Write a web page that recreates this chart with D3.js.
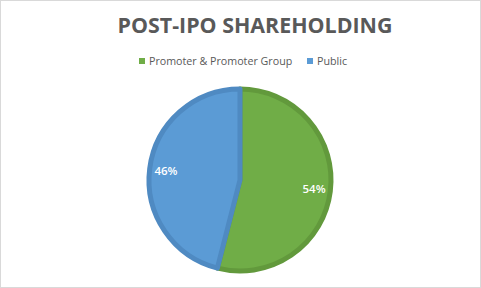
<!DOCTYPE html>
<html>
<head>
<meta charset="utf-8">
<script src="https://cdn.jsdelivr.net/npm/d3@7"></script>
<style>
  body { margin: 0; background: #fff; }
  svg { display: block; }
</style>
</head>
<body>
<div id="chart"></div>
<script>
'use strict';

// chart data
const categories = ['Promoter & Promoter Group', 'Public'];
const values = [54, 46];
const colors = ['#70AD47', '#5B9BD5'];
const borders = ['#62993c', '#4f8ac2'];
const title = 'POST-IPO SHAREHOLDING';

const width = 481, height = 288;
const cx = 240, cy = 180, radius = 91;

const svg = d3.select('#chart').append('svg')
    .attr('width', width)
    .attr('height', height);

// chart frame
svg.append('rect')
    .attr('x', 0.5).attr('y', 0.5)
    .attr('width', width - 1).attr('height', height - 1)
    .attr('fill', '#fff')
    .attr('stroke', '#d9d9d9');

// title
svg.append('text')
    .attr('x', 255).attr('y', 33)
    .attr('text-anchor', 'middle')
    .attr('font-family', 'Open Sans, sans-serif')
    .attr('font-weight', 'bold')
    .attr('font-size', 21.4)
    .attr('fill', '#595959')
    .text(title);

// legend
const legendX = [139, 307];
const legend = svg.selectAll('g.legend')
    .data(categories)
    .enter()
    .append('g')
    .attr('class', 'legend')
    .attr('transform', (d, i) => `translate(${legendX[i]},58)`);

legend.append('rect')
    .attr('width', 6).attr('height', 6)
    .attr('fill', (d, i) => colors[i]);

legend.append('text')
    .attr('x', 10).attr('y', 6.5)
    .attr('font-family', 'Open Sans, sans-serif')
    .attr('font-size', 10.7)
    .attr('fill', '#595959')
    .text(d => d);

// pie
const pie = d3.pie().sort(null).value(d => d);
const arc = d3.arc().innerRadius(0).outerRadius(radius);
const labelArc = d3.arc().innerRadius(radius * 0.82).outerRadius(radius * 0.82);

const g = svg.append('g').attr('transform', `translate(${cx},${cy})`);
const arcs = pie(values);

g.selectAll('path')
    .data(arcs)
    .enter()
    .append('path')
    .attr('d', arc)
    .attr('fill', (d, i) => colors[i])
    .attr('stroke', (d, i) => borders[i])
    .attr('stroke-width', 5)
    .attr('stroke-linejoin', 'round');

g.selectAll('text')
    .data(arcs)
    .enter()
    .append('text')
    .attr('transform', d => `translate(${labelArc.centroid(d)})`)
    .attr('text-anchor', 'middle')
    .attr('dy', '0.35em')
    .attr('font-family', 'Open Sans, sans-serif')
    .attr('font-size', 11.5)
    .attr('font-weight', 600)
    .attr('fill', '#fff')
    .text(d => `${d.data}%`);
</script>
</body>
</html>
